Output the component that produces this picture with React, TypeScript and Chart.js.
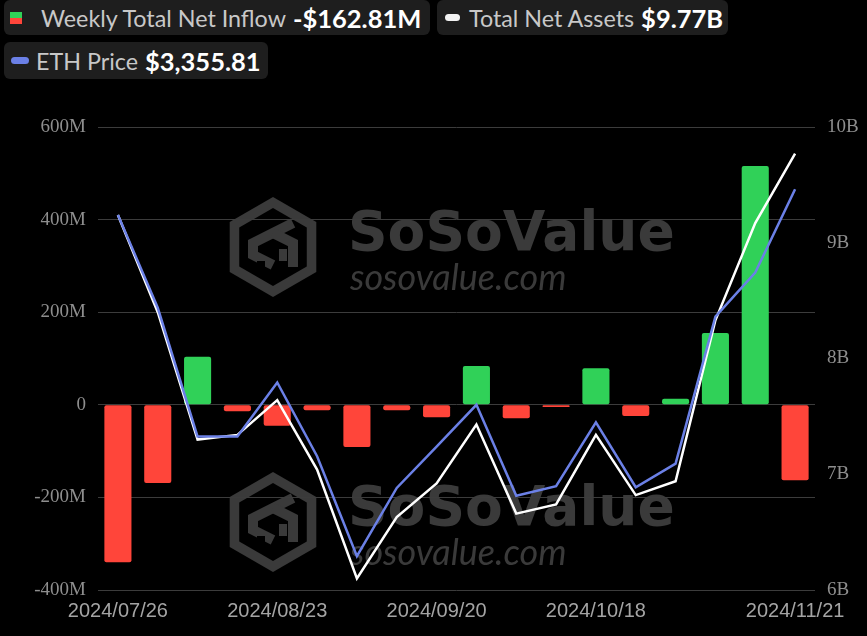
import React, { useEffect, useRef } from 'react';
import { Chart, registerables } from 'chart.js';

Chart.register(...registerables);

// ---- data ----
const dates = [
  '2024/07/26', '2024/08/02', '2024/08/09', '2024/08/16', '2024/08/23', '2024/08/30',
  '2024/09/06', '2024/09/13', '2024/09/20', '2024/09/27', '2024/10/04', '2024/10/11',
  '2024/10/18', '2024/10/25', '2024/11/01', '2024/11/08', '2024/11/15', '2024/11/21',
];
// weekly total net inflow, $M
const netInflow = [-340, -169, 104, -14, -45, -12, -91, -12, -27, 84, -29, -5, 79, -24, 13, 155, 516, -162.81];
// total net assets, $B
const totalNetAssets = [9.24, 8.4, 7.3, 7.34, 7.64, 7.04, 6.1, 6.63, 6.92, 7.43, 6.66, 6.74, 7.34, 6.82, 6.94, 8.33, 9.17, 9.77];
// ETH price, $
const ethPrice = [3280, 3005, 2624, 2624, 2784, 2566, 2270, 2472, 2594, 2718, 2449, 2477, 2666, 2474, 2544, 2979, 3109, 3355.81];
const shownDateIdx = [0, 4, 8, 12, 17];
const inflowRange = [-400, 600];
const inflowStep = 200;
const assetsRange = [6, 10];
const ethRange = [2170, 3540];

const RED = '#ff453a';
const GREEN = '#30d158';
const BLUE = '#6b80e6';
const MARK = '#3a3a3a';

function drawMark(ctx: CanvasRenderingContext2D, cx: number, cy: number) {
  const hex = (r: number) => {
    ctx.beginPath();
    for (let i = 0; i < 6; i++) {
      const a = (Math.PI / 3) * i - Math.PI / 2;
      const x = cx + r * Math.cos(a);
      const y = cy + r * Math.sin(a);
      if (i === 0) ctx.moveTo(x, y); else ctx.lineTo(x, y);
    }
    ctx.closePath();
  };
  ctx.fillStyle = MARK;
  hex(50);
  ctx.fill();
  ctx.fillStyle = '#000';
  hex(39);
  ctx.fill();
  // inner isometric S-cube shape
  ctx.strokeStyle = MARK;
  ctx.lineWidth = 10;
  ctx.lineJoin = 'miter';
  ctx.beginPath();
  ctx.moveTo(cx + 20, cy - 24);
  ctx.lineTo(cx, cy - 14);
  ctx.lineTo(cx - 20, cy - 4);
  ctx.lineTo(cx - 20, cy + 8);
  ctx.lineTo(cx, cy + 18);
  ctx.stroke();
  ctx.beginPath();
  ctx.moveTo(cx, cy - 14);
  ctx.lineTo(cx + 20, cy - 4);
  ctx.lineTo(cx + 20, cy + 20);
  ctx.stroke();
  ctx.fillStyle = MARK;
  ctx.fillRect(cx + 6, cy + 2, 8, 12);
  ctx.fillStyle = '#000';
  ctx.fillRect(cx - 16, cy + 14, 8, 10);

  ctx.fillStyle = MARK;
  ctx.textBaseline = 'alphabetic';
  ctx.textAlign = 'left';
  ctx.font = 'bold 55px "DejaVu Sans", "Liberation Sans", sans-serif';
  ctx.fillText('SoSoValue', cx + 75, cy + 3);
  ctx.font = 'italic 36px Lato, "Open Sans", sans-serif';
  ctx.fillText('sosovalue.com', cx + 77, cy + 43);
}

const watermark = {
  id: 'watermark',
  beforeDraw(chart: any) {
    const ctx = chart.ctx as CanvasRenderingContext2D;
    ctx.save();
    ctx.fillStyle = '#000';
    ctx.fillRect(0, 0, chart.width, chart.height);
    drawMark(ctx, 273, 247);
    drawMark(ctx, 273, 522);
    ctx.restore();
  },
};

const boxStyle: React.CSSProperties = {
  position: 'absolute',
  background: '#1e1e1e',
  borderRadius: 6,
  display: 'flex',
  alignItems: 'center',
  fontFamily: 'Lato, "Open Sans", sans-serif',
  fontSize: 23.3,
  color: '#c8c8c8',
  whiteSpace: 'nowrap',
  boxSizing: 'border-box',
};
const valStyle: React.CSSProperties = { color: '#fff', fontWeight: 700, fontSize: 25.5, marginLeft: 7 };

export default function App() {
  const ref = useRef<HTMLCanvasElement | null>(null);

  useEffect(() => {
    document.body.style.margin = '0';
    document.body.style.background = '#000';
    const canvas = ref.current;
    if (!canvas) return;
    const chart = new Chart(canvas, {
      type: 'bar',
      data: {
        labels: dates,
        datasets: [
          {
            type: 'line',
            label: 'ETH Price',
            data: ethPrice,
            yAxisID: 'yEth',
            borderColor: BLUE,
            borderWidth: 2.5,
            pointRadius: 0,
            tension: 0,
            order: 1,
          } as any,
          {
            type: 'line',
            label: 'Total Net Assets',
            data: totalNetAssets,
            yAxisID: 'yAssets',
            borderColor: '#ffffff',
            borderWidth: 2.5,
            pointRadius: 0,
            tension: 0,
            order: 2,
          } as any,
          {
            type: 'bar',
            label: 'Weekly Total Net Inflow',
            data: netInflow,
            yAxisID: 'yInflow',
            backgroundColor: netInflow.map((v) => (v >= 0 ? GREEN : RED)),
            barPercentage: 0.68,
            categoryPercentage: 1,
            borderRadius: 2,
            borderSkipped: false,
            order: 3,
          } as any,
        ],
      },
      options: {
        responsive: false,
        animation: false,
        layout: { padding: { top: 127, left: 0, right: 0, bottom: 0 } },
        plugins: { legend: { display: false }, tooltip: { enabled: false } },
        scales: {
          x: {
            grid: { display: false },
            border: { display: false },
            ticks: {
              autoSkip: false,
              maxRotation: 0,
              color: '#a4a4a4',
              font: { family: '"Liberation Sans", Arial, sans-serif', size: 20 },
              padding: 1,
              callback: (_v: any, i: number) => (shownDateIdx.includes(i) ? dates[i] : ''),
            },
            afterFit: (s: any) => { s.height = 46; },
          },
          yInflow: {
            position: 'left',
            min: inflowRange[0],
            max: inflowRange[1],
            ticks: {
              stepSize: inflowStep,
              color: '#8e8e8e',
              font: { family: '"Liberation Serif", "Times New Roman", serif', size: 19 },
              padding: 12,
              callback: (v: any) => (Number(v) === 0 ? '0' : `${v}M`),
            },
            grid: { color: '#3c3c3c', drawTicks: false, lineWidth: 1 },
            border: { display: false },
            afterFit: (s: any) => { s.width = 98; },
          },
          yAssets: {
            position: 'right',
            min: assetsRange[0],
            max: assetsRange[1],
            ticks: {
              stepSize: 1,
              color: '#8e8e8e',
              font: { family: '"Liberation Serif", "Times New Roman", serif', size: 19 },
              padding: 12,
              callback: (v: any) => `${v}B`,
            },
            grid: { display: false, drawTicks: false },
            border: { display: false },
            afterFit: (s: any) => { s.width = 52; },
          },
          yEth: {
            display: false,
            min: ethRange[0],
            max: ethRange[1],
          },
        },
      } as any,
      plugins: [watermark],
    });
    return () => chart.destroy();
  }, []);

  return (
    <div style={{ position: 'relative', width: 867, height: 636, background: '#000', overflow: 'hidden' }}>
      <canvas ref={ref} width={867} height={636} style={{ display: 'block', position: 'absolute', left: 0, top: 0 }} />
      <div style={{ ...boxStyle, left: 4, top: 0, width: 426, height: 35, paddingLeft: 6 }}>
        <span style={{ display: 'inline-block', width: 12, height: 12, marginRight: 19 }}>
          <span style={{ display: 'block', height: 6, background: GREEN }} />
          <span style={{ display: 'block', height: 6, background: RED }} />
        </span>
        <span>Weekly Total Net Inflow</span>
        <span style={valStyle}>-$162.81M</span>
      </div>
      <div style={{ ...boxStyle, left: 437, top: 0, width: 291, height: 35, paddingLeft: 8 }}>
        <span style={{ display: 'inline-block', width: 15, height: 7, borderRadius: 4, background: '#f2f2f2', marginRight: 9 }} />
        <span>Total Net Assets</span>
        <span style={valStyle}>$9.77B</span>
      </div>
      <div style={{ ...boxStyle, left: 4, top: 42, width: 264, height: 37, paddingLeft: 7 }}>
        <span style={{ display: 'inline-block', width: 18, height: 7, borderRadius: 4, background: BLUE, marginRight: 7 }} />
        <span>ETH Price</span>
        <span style={valStyle}>$3,355.81</span>
      </div>
    </div>
  );
}
